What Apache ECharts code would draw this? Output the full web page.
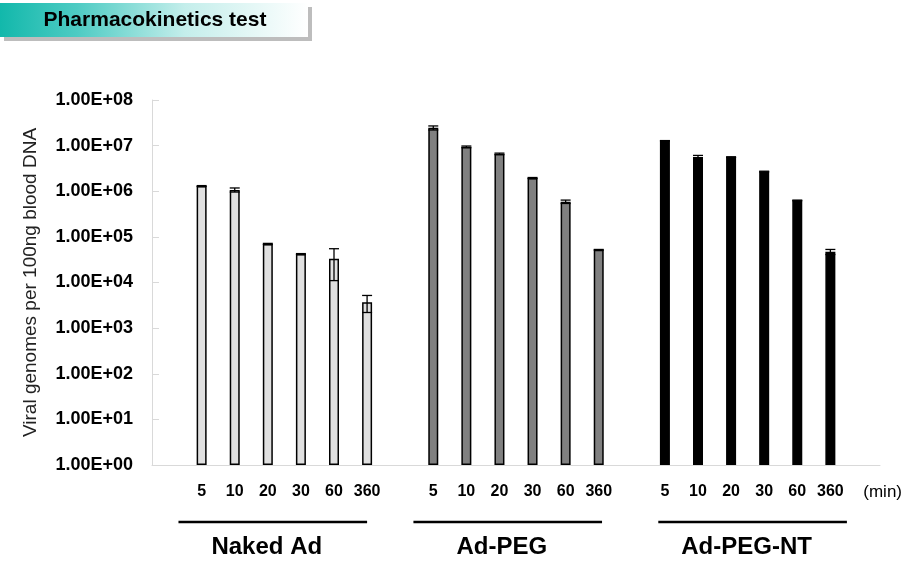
<!DOCTYPE html>
<html>
<head>
<meta charset="utf-8">
<script src="https://cdn.jsdelivr.net/npm/echarts@6/dist/echarts.min.js"></script>
<style>html,body{margin:0;padding:0;background:#fff;}#c{width:922px;height:571px;}</style>
</head>
<body>
<div id="c"></div>
<script>
const titleText = 'Pharmacokinetics test';
const yAxisName = 'Viral genomes per 100ng blood DNA';
const timeLabels = ['5', '10', '20', '30', '60', '360'];
const groupNames = ['Naked Ad', 'Ad-PEG', 'Ad-PEG-NT'];
const unitLabel = '(min)';
const nakedAd   = [1.3e6, 1.07e6, 7.0e4, 4.2e4, 3.3e4, 3.7e3];
const nakedAdSd = [3e4, 1.1e5, 2e3, 1e3, 2.2e4, 1.5e3];
const adPeg     = [2.45e7, 9.4e6, 6.6e6, 1.95e6, 5.9e5, 5.2e4];
const adPegSd   = [2.5e6, 4e5, 2.5e5, 5e4, 5e4, 1e3];
const adPegNt   = [1.28e7, 5.6e6, 5.6e6, 2.7e6, 6.3e5, 4.7e4];
const adPegNtSd = [1e5, 5e5, 1e5, 5e4, 1e4, 6e3];

const groups = [
  {name: groupNames[0], values: nakedAd, sd: nakedAdSd, color: '#e0e0e0'},
  {name: groupNames[1], values: adPeg, sd: adPegSd, color: '#808080'},
  {name: groupNames[2], values: adPegNt, sd: adPegNtSd, color: '#000000'}
];

// 22 category slots: empty, 6 times, empty, 6 times, empty, 6 times, empty
const categories = [''];
groups.forEach(() => { timeLabels.forEach(t => categories.push(t)); categories.push(''); });
const slotOf = (g, i) => 1 + g * 7 + i;

const FONT = "'Liberation Sans', Arial, sans-serif";
const chart = echarts.init(document.getElementById('c'), null, {renderer: 'canvas'});

const series = [];
groups.forEach((g, gi) => {
  const data = categories.map(() => null);
  g.values.forEach((v, i) => { data[slotOf(gi, i)] = v; });
  series.push({
    type: 'bar', name: g.name, data: data, barWidth: 10, barGap: '-100%',
    itemStyle: {color: g.color, borderColor: '#000', borderWidth: 1.5},
    silent: true, z: 2
  });
});
groups.forEach((g, gi) => {
  series.push({
    type: 'custom', name: g.name + ' err', z: 5, silent: true,
    data: g.values.map((v, i) => [slotOf(gi, i), v, g.sd[i]]),
    encode: {x: 0, y: 1},
    renderItem: function (params, api) {
      const idx = api.value(0), m = api.value(1), s = api.value(2);
      const top = api.coord([idx, m + s]);
      const bot = api.coord([idx, Math.max(m - s, 1)]);
      const hw = 5;
      const st = {stroke: '#000', lineWidth: 1.3};
      return {type: 'group', children: [
        {type: 'line', shape: {x1: top[0], y1: top[1], x2: bot[0], y2: bot[1]}, style: st},
        {type: 'line', shape: {x1: top[0] - hw, y1: top[1], x2: top[0] + hw, y2: top[1]}, style: st},
        {type: 'line', shape: {x1: bot[0] - hw, y1: bot[1], x2: bot[0] + hw, y2: bot[1]}, style: st}
      ]};
    }
  });
});

chart.setOption({
  animation: false,
  backgroundColor: '#fff',
  grid: {left: 152, right: 42, top: 100, bottom: 106, containLabel: false},
  xAxis: {
    type: 'category', data: categories,
    axisLine: {lineStyle: {color: '#d9d9d9', width: 1}},
    axisTick: {show: false},
    axisLabel: {interval: 0, color: '#000', fontFamily: FONT, fontWeight: 'bold', fontSize: 16, margin: 19}
  },
  yAxis: {
    type: 'log', logBase: 10, min: 1, max: 1e8, splitNumber: 8,
    name: yAxisName, nameLocation: 'middle', nameGap: 112,
    nameTextStyle: {color: '#222', fontFamily: FONT, fontSize: 19},
    axisLine: {show: true, lineStyle: {color: '#d9d9d9'}},
    axisTick: {show: true, inside: true, length: 7, lineStyle: {color: '#d9d9d9'}},
    splitLine: {show: false},
    axisLabel: {
      color: '#000', fontFamily: FONT, fontWeight: 'bold', fontSize: 18, margin: 19,
      formatter: v => '1.00E+' + String(Math.round(Math.log10(v))).padStart(2, '0')
    }
  },
  series: series
});

// Decorations positioned from the category axis scale
const x0 = chart.convertToPixel({xAxisIndex: 0}, 0);
const x1 = chart.convertToPixel({xAxisIndex: 0}, 1);
const step = x1 - x0;
const ux = u => x0 + (u - 0.5) * step; // u in slot units from plot left
const lineStarts = [0.8, 7.9, 15.3];
const lineLen = 5.7;
const graphics = [
  {type: 'rect', shape: {x: 4, y: 7, width: 308, height: 34}, style: {fill: '#bdbdbd'}, z: 1},
  {type: 'rect', shape: {x: 0, y: 3, width: 308, height: 34}, z: 2,
   style: {fill: new echarts.graphic.LinearGradient(0, 0, 1, 0, [
     {offset: 0, color: '#12b8ab'}, {offset: 0.25, color: '#4ecbc3'},
     {offset: 0.6, color: '#c4eeeb'}, {offset: 1, color: '#ffffff'}])}},
  {type: 'text', x: 155, y: 20, z: 3,
   style: {text: titleText, fill: '#000', font: "bold 21px " + FONT, textAlign: 'center', textVerticalAlign: 'middle'}},
  {type: 'text', x: ux(22.08), y: 492,
   style: {text: unitLabel, fill: '#000', font: "17px " + FONT, textAlign: 'center', textVerticalAlign: 'middle'}}
];
groups.forEach((g, gi) => {
  const a = ux(lineStarts[gi]), b = ux(lineStarts[gi] + lineLen);
  graphics.push({type: 'line', shape: {x1: a, y1: 522, x2: b, y2: 522}, style: {stroke: '#000', lineWidth: 2.5}});
  graphics.push({type: 'text', x: (a + b) / 2 - 6, y: 547,
    style: {text: g.name, fill: '#000', font: "bold 24px " + FONT, textAlign: 'center', textVerticalAlign: 'middle'}});
});
chart.setOption({graphic: graphics});
</script>
</body>
</html>
